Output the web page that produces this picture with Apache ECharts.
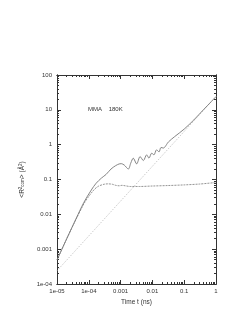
<!DOCTYPE html>
<html>
<head>
<meta charset="utf-8">
<script src="https://cdn.jsdelivr.net/npm/echarts@6/dist/echarts.min.js"></script>
<style>html,body{margin:0;padding:0;background:#fff;}#c{width:250px;height:323px;}</style>
</head>
<body>
<div id="c"></div>
<script>
// Data (time in ns, <R^2_com> in Å^2)
const totalT = [1e-5, 2e-5, 4e-5, 7e-5, 1.2e-4, 1.7e-4, 2.5e-4, 3.5e-4, 5e-4, 7e-4, 9e-4, 1.05e-3, 1.3e-3, 1.75e-3, 2.1e-3, 2.5e-3, 3.2e-3, 4.1e-3, 5.2e-3, 6.6e-3, 7.8e-3, 9.5e-3, 0.0112, 0.0135, 0.0162, 0.0186, 0.022, 0.032, 0.05, 0.1, 0.2, 0.4, 0.7, 1];
const totalR = [4.9e-4, 1.95e-3, 7.6e-3, 0.022, 0.05, 0.078, 0.11, 0.14, 0.2, 0.25, 0.28, 0.285, 0.26, 0.2, 0.3, 0.41, 0.28, 0.455, 0.35, 0.51, 0.41, 0.57, 0.51, 0.71, 0.62, 0.83, 0.8, 1.2, 1.7, 2.8, 5.1, 10, 17, 24];
const innerT = [1e-5, 2e-5, 4e-5, 7e-5, 1e-4, 1.5e-4, 2e-4, 3e-4, 4e-4, 5.5e-4, 7e-4, 9e-4, 1.1e-3, 1.4e-3, 2e-3, 4e-3, 0.01, 0.03, 0.1, 0.3, 1];
const innerR = [4.9e-4, 1.95e-3, 7.3e-3, 0.02, 0.033, 0.052, 0.064, 0.073, 0.075, 0.073, 0.068, 0.066, 0.068, 0.066, 0.063, 0.063, 0.065, 0.067, 0.07, 0.074, 0.082];
const diffT = [1e-5, 1e-4, 1e-3, 0.01, 0.1, 1];
const diffR = [2.4e-4, 2.4e-3, 0.024, 0.24, 2.4, 24];
const xTickLabels = ['1e-05', '1e-04', '0.001', '0.01', '0.1', '1'];
const yTickLabels = ['1e-04', '0.001', '0.01', '0.1', '1', '10', '100'];
const xName = 'Time t (ns)';
const annotation = 'MMA    180K';

function zip(a, b) { return a.map((v, i) => [v, b[i]]); }
function minors(lo, hi) {
  const out = [];
  for (let e = lo; e < hi; e++) for (let m = 2; m <= 9; m++) out.push(m * Math.pow(10, e));
  return out;
}
const FONT = "'Liberation Sans', Arial, sans-serif";
const AX = '#333';
function xAx(pos, labels, minor) {
  return {
    type: 'log', logBase: 10, min: 1e-5, max: 1, interval: 1, position: pos,
    axisLine: { show: true, lineStyle: { color: AX, width: 1 } },
    axisTick: minor ? { show: true, inside: true, length: 2, lineStyle: { color: AX }, customValues: minors(-5, 0) }
                    : { show: true, inside: true, length: 4, lineStyle: { color: AX } },
    axisLabel: labels ? { show: true, fontSize: 6, color: '#333', fontFamily: FONT, margin: 4,
      formatter: v => xTickLabels[Math.round(Math.log10(v)) + 5] } : { show: false },
    splitLine: { show: false }, minorTick: { show: false },
    name: labels ? xName : '', nameLocation: 'middle', nameGap: 14,
    nameTextStyle: { fontSize: 6.5, color: '#333', fontFamily: FONT }
  };
}
function yAx(pos, labels, minor) {
  return {
    type: 'log', logBase: 10, min: 1e-4, max: 100, interval: 1, position: pos,
    axisLine: { show: true, lineStyle: { color: AX, width: 1 } },
    axisTick: minor ? { show: true, inside: true, length: 2, lineStyle: { color: AX }, customValues: minors(-4, 2) }
                    : { show: true, inside: true, length: 4, lineStyle: { color: AX } },
    axisLabel: labels ? { show: true, fontSize: 6, color: '#333', fontFamily: FONT, margin: 5,
      formatter: v => yTickLabels[Math.round(Math.log10(v)) + 4] } : { show: false },
    splitLine: { show: false }, minorTick: { show: false },
    name: labels ? '<R{sup|2}{sub|com}> (Å{sup|2})' : '', nameLocation: 'middle', nameGap: 29, nameRotate: 90,
    nameTextStyle: { fontSize: 6.5, color: '#333', fontFamily: FONT,
      rich: { sup: { fontSize: 4.5, verticalAlign: 'top', color: '#333', fontFamily: FONT },
              sub: { fontSize: 4.5, verticalAlign: 'bottom', color: '#333', fontFamily: FONT } } }
  };
}
const chart = echarts.init(document.getElementById('c'), null, { renderer: 'canvas' });
chart.setOption({
  animation: false,
  backgroundColor: '#fff',
  grid: { left: 57, right: 34, top: 75, bottom: 39, containLabel: false },
  xAxis: [xAx('bottom', true, false), xAx('top', false, false), xAx('bottom', false, true), xAx('top', false, true)],
  yAxis: [yAx('left', true, false), yAx('right', false, false), yAx('left', false, true), yAx('right', false, true)],
  graphic: [{ type: 'text', left: 88, top: 106, style: { text: annotation, fontSize: 6, fill: '#333', fontFamily: FONT } }],
  series: [
    { type: 'line', data: zip(diffT, diffR), symbol: 'none', smooth: false,
      lineStyle: { color: '#aaa', width: 0.8, type: [1, 1.5] } },
    { type: 'line', data: zip(innerT, innerR), symbol: 'none', smooth: 0.3,
      lineStyle: { color: '#888', width: 0.9, type: [2, 1] } },
    { type: 'line', data: zip(totalT, totalR), symbol: 'none', smooth: 0.3,
      lineStyle: { color: '#777', width: 0.9 } }
  ]
});
</script>
</body>
</html>
